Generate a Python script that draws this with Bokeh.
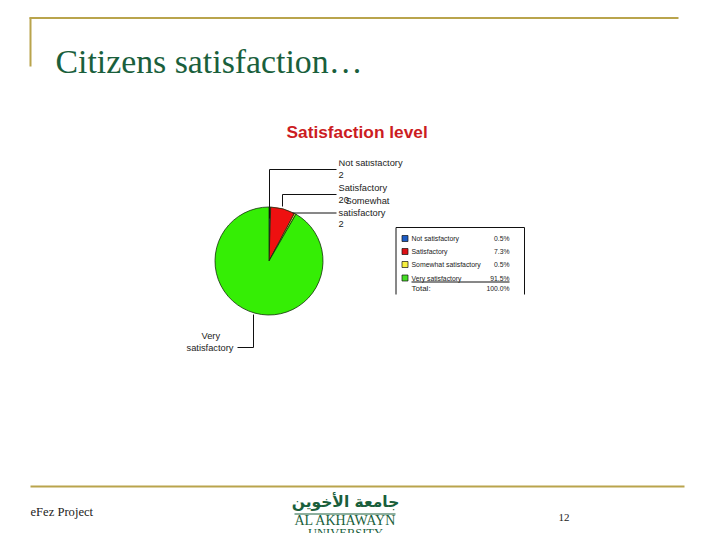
import numpy as np
from bokeh.core.properties import value
from bokeh.embed import file_html
from bokeh.models import ColumnDataSource, Range1d
from bokeh.plotting import figure
from bokeh.resources import INLINE

categories = ["Not satisfactory", "Satisfactory", "Somewhat satisfactory", "Very satisfactory"]
percents = [0.5, 7.3, 0.5, 91.5]
percent_labels = ["0.5%", "7.3%", "0.5%", "91.5%"]
count_labels = ["2", "20", "2"]
total_label = "100.0%"
pie_colors = ["#1c5cc4", "#ee1010", "#f4f040", "#35ee05"]
legend_colors = ["#1c5cc4", "#dd1015", "#f7f040", "#45dd25"]

GOLD = "#b9a44c"
GREEN = "#1a5f3c"
GREY = "#222222"


def Y(py):
    # picture y (from the top) to plot y
    return 540 - py


p = figure(width=720, height=540, output_backend="svg", toolbar_location=None,
           x_range=Range1d(0, 720), y_range=Range1d(0, 540),
           min_border=0, outline_line_color=None)
p.axis.visible = False
p.grid.visible = False


def put(x, py, txt, size, color=GREY, font="Liberation Sans", style="normal", align="left"):
    p.text(x=[x], y=[Y(py)], text=[txt], text_font=value(font), text_font_size=size,
           text_font_style=style, text_color=color, text_align=align, text_baseline="middle")


def rule(xs, pys, color="#111111", width=1.0):
    p.line(x=xs, y=[Y(v) for v in pys], line_color=color, line_width=width)


# slide frame
rule([29, 678], [17.5, 17.5], GOLD, 2)
rule([30, 30], [17, 66], GOLD, 2)
rule([30, 684], [486, 486], GOLD, 2)
put(55, 60.5, "Citizens satisfaction…", "33.8px", GREEN, "Liberation Serif")

# pie, clockwise from twelve o'clock
fractions = np.array(percents) / sum(percents)
edges = np.concatenate([[0], np.cumsum(fractions)])
source = ColumnDataSource(dict(
    x=[268.5] * len(categories),
    y=[Y(260.5)] * len(categories),
    start=np.pi / 2 - edges[:-1] * 2 * np.pi,
    end=np.pi / 2 - edges[1:] * 2 * np.pi,
    color=pie_colors,
    name=categories,
))
p.wedge(x="x", y="y", radius=54, start_angle="start", end_angle="end", direction="clock",
        fill_color="color", line_color="#14300c", line_width=0.8, source=source)

put(286, 131.5, "Satisfaction level", "17.3px", "#cc1c22", style="bold")

# leader lines
rule([269, 269, 336], [218, 169, 169])
rule([282, 282, 336], [206, 194, 194])
rule([292, 336], [212.5, 212.5])
rule([253, 253, 237], [314, 347, 347])

# callouts
put(338, 162, categories[0], "9.3px")
p.quad(left=[330], right=[420], bottom=[Y(160)], top=[Y(150)], fill_color="white", line_color=None)
put(338, 174.5, count_labels[0], "9.3px")
put(338, 187.5, categories[1], "9.3px")
put(338, 199.5, count_labels[1], "9.3px")
put(345, 200.5, "Somewhat", "9.3px")
put(338, 212, "satisfactory", "9.3px")
put(338, 223.5, count_labels[2], "9.3px")
put(201, 335, "Very", "9.3px")
put(186, 347, "satisfactory", "9.3px")

# legend box, open at the bottom
rule([395.5, 395.5], [294, 227])
rule([395.5, 524], [227, 227])
rule([524, 524], [227, 294])

legend_rows = [238, 251, 264, 277.5]
legend_sizes = ["6.9px", "6.9px", "6.9px", "6.8px"]
for cat, pct, col, py, size in zip(categories, percent_labels, legend_colors, legend_rows, legend_sizes):
    p.quad(left=[401.5], right=[407.5], bottom=[Y(py + 3)], top=[Y(py - 3)],
           fill_color=col, line_color="#111111", line_width=0.7)
    put(411, py, cat, size)
    put(509, py, pct, "6.8px", align="right")
rule([411, 509], [281.5, 281.5], "#111111", 1)
put(411, 287.5, "Total:", "8px")
put(509, 287.5, total_label, "6.8px", align="right")

# footer
put(30, 511, "eFez Project", "12.6px", "#222222", "Liberation Serif")
put(558, 517, "12", "11px", "#222222", "Liberation Serif")
put(345, 501, "جامعة الأخوين", "15.5px", GREEN, "DejaVu Sans", "bold", "center")
rule([294, 395], [513.5, 513.5], GREEN, 1)
put(345, 520, "AL AKHAWAYN", "14px", GREEN, "Liberation Serif", align="center")
put(345, 532, "UNIVERSITY", "12.5px", GREEN, "Liberation Serif", align="center")
p.quad(left=[285], right=[405], bottom=[0], top=[Y(532.5)], fill_color="white", line_color=None)

open("out.html", "w").write(file_html(p, INLINE))
